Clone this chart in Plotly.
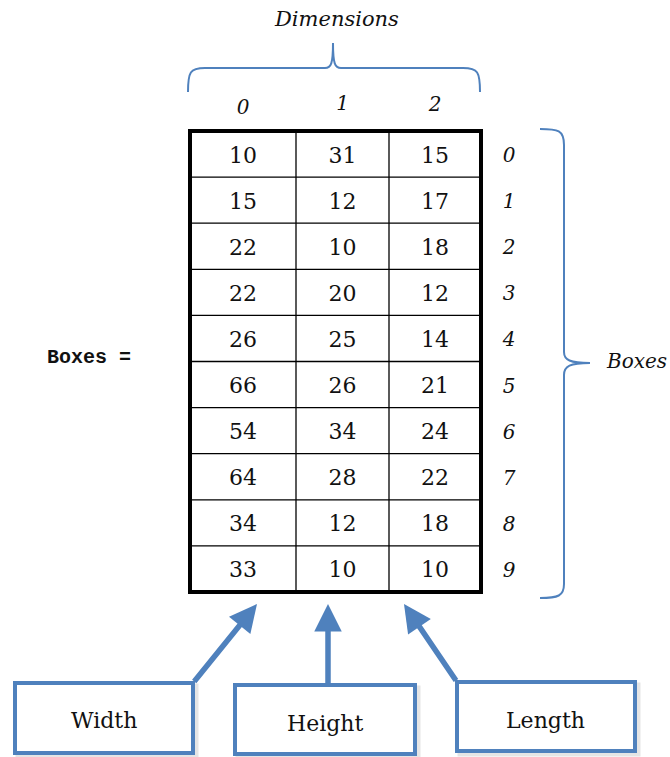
import plotly.graph_objects as go

# ---- data ----
width_vals = [10, 15, 22, 22, 26, 66, 54, 64, 34, 33]
height_vals = [31, 12, 10, 20, 25, 26, 34, 28, 12, 10]
length_vals = [15, 17, 18, 12, 14, 21, 24, 22, 18, 10]
col_labels = ["0", "1", "2"]
row_labels = [str(i) for i in range(10)]
dim_names = ["Width", "Height", "Length"]

BLUE = "#4F81BD"
SERIF = "DejaVu Serif"
W, H = 670, 757
TXT_DY = 3  # optical adjustment so digits sit centred in cells

# layout geometry (pixel space)
col_edges = [190, 296, 389, 481]
table_top, table_bottom = 131, 592
n_rows = len(width_vals)
row_h = (table_bottom - table_top) / n_rows
col_centers = [(col_edges[i] + col_edges[i + 1]) / 2 for i in range(3)]
row_centers = [table_top + row_h * (i + 0.5) + TXT_DY for i in range(n_rows)]

fig = go.Figure()

# cell values
cols = [width_vals, height_vals, length_vals]
xs, ys, ts = [], [], []
for ci, vals in enumerate(cols):
    for ri, v in enumerate(vals):
        xs.append(col_centers[ci]); ys.append(row_centers[ri]); ts.append(str(v))
fig.add_trace(go.Scatter(x=xs, y=ys, text=ts, mode="text",
                         textfont=dict(family=SERIF, size=22, color="#111"),
                         hoverinfo="skip", showlegend=False))

# column header labels
fig.add_trace(go.Scatter(x=col_centers, y=[109, 105, 106],
                         text=[f"<i>{c}</i>" for c in col_labels], mode="text",
                         textfont=dict(family=SERIF, size=20, color="#111"),
                         hoverinfo="skip", showlegend=False))
# row labels
fig.add_trace(go.Scatter(x=[509] * n_rows, y=row_centers,
                         text=[f"<i>{r}</i>" for r in row_labels], mode="text",
                         textfont=dict(family=SERIF, size=20, color="#111"),
                         hoverinfo="skip", showlegend=False))

shapes = []
# grid lines
for xe in col_edges[1:-1]:
    shapes.append(dict(type="line", x0=xe, x1=xe, y0=table_top, y1=table_bottom,
                       line=dict(color="black", width=1.3)))
for i in range(1, n_rows):
    yy = table_top + row_h * i
    shapes.append(dict(type="line", x0=col_edges[0], x1=col_edges[-1], y0=yy, y1=yy,
                       line=dict(color="black", width=1.3)))
# outer border
shapes.append(dict(type="rect", x0=col_edges[0], x1=col_edges[-1], y0=table_top, y1=table_bottom,
                   line=dict(color="black", width=4)))

# top brace
shapes.append(dict(type="path",
                   path="M188,92 C188,72 190,68 205,68 L325,68 C331,68 333,64 333,43 "
                        "C333,64 335,68 341,68 L463,68 C478,68 480,72 480,92",
                   line=dict(color=BLUE, width=2)))
# right brace
shapes.append(dict(type="path",
                   path="M540,129 C558,129 564,130 564,145 L564,352 C564,360 570,363 590,363 "
                        "C570,363 564,366 564,375 L564,584 C564,596 558,598 540,598",
                   line=dict(color=BLUE, width=2)))

# label boxes
boxes = [(15, 683, 193, 753), (235, 685, 415, 754), (457, 682, 635, 751)]
for (x0, y0, x1, y1) in boxes:
    shapes.append(dict(type="rect", x0=x0 + 3, x1=x1 + 3, y0=y0 + 3, y1=y1 + 3,
                       line=dict(color="rgba(0,0,0,0.10)", width=5), layer="below"))
    shapes.append(dict(type="rect", x0=x0, x1=x1, y0=y0, y1=y1,
                       line=dict(color=BLUE, width=4), fillcolor="white"))

annotations = []
# box texts
text_pos = [(104, 720), (325, 723), (545, 720)]
for name, (tx, ty) in zip(dim_names, text_pos):
    annotations.append(dict(x=tx, y=ty, text=name, showarrow=False,
                            font=dict(family=SERIF, size=22, color="#111")))
# arrows
arrows = [((257, 604), (193, 683)), ((328, 604), (328, 685)), ((404, 604), (457, 682))]
for (tip, tail) in arrows:
    annotations.append(dict(x=tip[0], y=tip[1], ax=tail[0], ay=tail[1],
                            xref="x", yref="y", axref="x", ayref="y",
                            text="", showarrow=True, arrowhead=2, arrowsize=1.0,
                            arrowwidth=5.5, arrowcolor=BLUE))
# titles
annotations.append(dict(x=336, y=19, text="<i>Dimensions</i>", showarrow=False,
                        font=dict(family=SERIF, size=21, color="#111")))
annotations.append(dict(x=669, y=361, text="<i>Boxes</i>", showarrow=False, xanchor="right",
                        font=dict(family=SERIF, size=20, color="#111")))
annotations.append(dict(x=89, y=357, text="<b>Boxes =</b>", showarrow=False,
                        font=dict(family="Liberation Mono", size=20, color="#111")))

fig.update_layout(
    width=W, height=H,
    margin=dict(l=0, r=0, t=0, b=0),
    paper_bgcolor="white", plot_bgcolor="white",
    xaxis=dict(range=[0, W], visible=False, fixedrange=True),
    yaxis=dict(range=[H, 0], visible=False, fixedrange=True),
    shapes=shapes, annotations=annotations,
    showlegend=False,
)
fig.write_html("out.html", config={"displayModeBar": False},
               post_script="document.body.style.margin='0';document.body.style.overflow='hidden';")
